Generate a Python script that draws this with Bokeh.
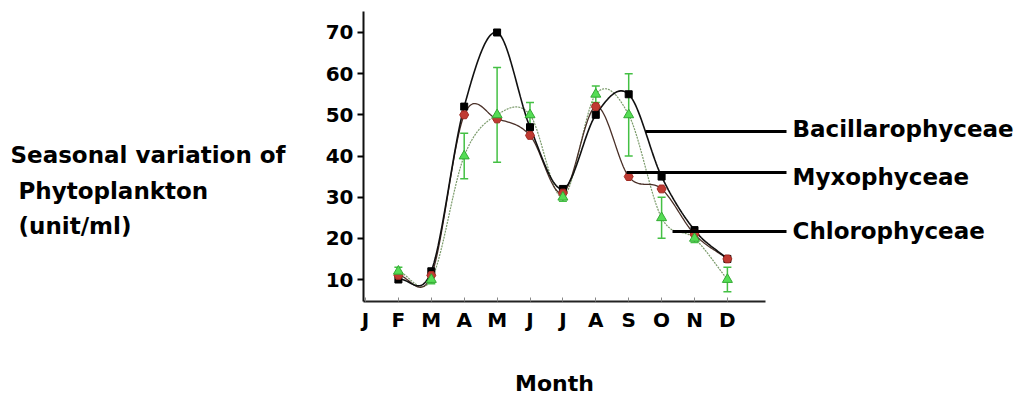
import numpy as np
from bokeh.plotting import figure
from bokeh.models import Range1d, FixedTicker, Label
from bokeh.layouts import row, column
from bokeh.core.properties import value
from bokeh.embed import file_html
from bokeh.resources import INLINE

months = ["J", "F", "M", "A", "M", "J", "J", "A", "S", "O", "N", "D"]
month_idx = [1, 2, 3, 4, 5, 6, 7, 8, 9, 10, 11]  # Feb..Dec
bacillario = [10, 12, 52, 70, 47, 32, 50, 55, 35, 22, 15]
myxo = [11, 11, 50, 49, 45, 31, 52, 35, 32, 21, 15]
chloro = [12, 10, 40, 50, 50, 30, 55, 50, 25, 20, 10]
chloro_err = [1, 1, 5.5, 11.5, 3, 1, 2, 10, 5, 1, 3]
y_ticks = [10, 20, 30, 40, 50, 60, 70]
series_names = ["Bacillarophyceae", "Myxophyceae", "Chlorophyceae"]
y_title = ["Seasonal variation of", "Phytoplankton", "(unit/ml)"]
x_title = "Month"

FONT = "DejaVu Sans"
LEFT_W = 318          # width of the left text panel
MAIN_W = 698
MAIN_H = 340
TOTAL_H = 396
FL, FB, FT = 363, 301, 11  # frame left / bottom / top (page px)
FR = LEFT_W + MAIN_W

def smooth(xs, ys, n=24):
    xs = np.asarray(xs, float); ys = np.asarray(ys, float)
    m = np.empty_like(ys)
    m[1:-1] = (ys[2:] - ys[:-2]) / 2.0
    m[0] = ys[1] - ys[0]
    m[-1] = ys[-1] - ys[-2]
    ox, oy = [], []
    for i in range(len(xs) - 1):
        t = np.linspace(0, 1, n, endpoint=False)
        h00 = 2*t**3 - 3*t**2 + 1
        h10 = t**3 - 2*t**2 + t
        h01 = -2*t**3 + 3*t**2
        h11 = t**3 - t**2
        ox.extend(xs[i] + t*(xs[i+1]-xs[i]))
        oy.extend(h00*ys[i] + h10*m[i] + h01*ys[i+1] + h11*m[i+1])
    ox.append(xs[-1]); oy.append(ys[-1])
    return ox, oy

px_per_month = 32.9
x0 = (FL - 365) / px_per_month
x1 = (FR - 365) / px_per_month
p = figure(width=MAIN_W, height=MAIN_H, output_backend="svg", toolbar_location=None,
           x_range=Range1d(x0, x1), y_range=Range1d(4.66, 75.1),
           min_border_left=FL - LEFT_W, min_border_right=0, min_border_top=FT,
           min_border_bottom=MAIN_H - FB)
p.outline_line_color = None
p.grid.visible = False

# axes
xa = p.xaxis[0]
xa.ticker = FixedTicker(ticks=list(range(12)))
xa.major_label_overrides = {i: m for i, m in enumerate(months)}
xa.bounds = (x0, 12.15)
xa.axis_line_width = 2
xa.axis_line_color = "#222222"
xa.major_tick_in = 4
xa.major_tick_out = 0
xa.major_tick_line_color = "#888888"
xa.minor_tick_line_color = None
xa.major_label_text_font = FONT
xa.major_label_text_font_style = "bold"
xa.major_label_text_font_size = "20px"
xa.major_label_text_color = "black"
xa.major_label_standoff = 6

ya = p.yaxis[0]
ya.ticker = FixedTicker(ticks=y_ticks)
ya.axis_line_width = 2
ya.axis_line_color = "#111111"
ya.major_tick_in = 0
ya.major_tick_out = 6
ya.major_tick_line_width = 2
ya.minor_tick_line_color = None
ya.major_label_text_font = FONT
ya.major_label_text_font_style = "bold"
ya.major_label_text_font_size = "20px"
ya.major_label_text_color = "black"
ya.major_label_standoff = 4

# curves
for ys, col, w, dash in [(chloro, "#7a9a6a", 1.2, "2 1"), (myxo, "#4a3028", 1.3, "solid"),
                         (bacillario, "#111111", 1.6, "solid")]:
    sx, sy = smooth(month_idx, ys)
    p.line(sx, sy, line_color=col, line_width=w, line_dash=dash)

# error bars for Chlorophyceae
lo = [v - e for v, e in zip(chloro, chloro_err)]
hi = [v + e for v, e in zip(chloro, chloro_err)]
p.segment(month_idx, lo, month_idx, hi, line_color="#44c044", line_width=1.5)
p.scatter(month_idx, lo, marker="dash", size=8, line_color="#44c044", line_width=1.5)
p.scatter(month_idx, hi, marker="dash", size=8, line_color="#44c044", line_width=1.5)

# markers
p.scatter(month_idx, bacillario, marker="square", size=7, fill_color="black", line_color="black")
p.scatter(month_idx, myxo, marker="hex", size=9, fill_color="#c03a32", line_color="#a02a22")
p.scatter(month_idx, chloro, marker="triangle", size=10, fill_color="#55dd55", line_color="#33aa33")

# leader lines to series labels
def dx(px):
    return (px - 365) / px_per_month
def dy(py):
    return 70 - (py - 32) / 4.117
lead_x0 = [dx(645), dx(626), dx(672)]
lead_x1 = [dx(786), dx(786), dx(786)]
lead_y = [dy(131), dy(172), dy(231)]
p.segment(lead_x0, lead_y, lead_x1, lead_y, line_color="black", line_width=3)

for name, py in zip(series_names, [128, 176, 230]):
    p.add_layout(Label(x=792 - FL, y=FB - py, x_units="screen", y_units="screen", text=name,
                       text_font=FONT, text_font_style="bold", text_font_size="23px",
                       text_color="black", text_align="left", text_baseline="middle"))

# left panel holding the y title (same vertical borders as the main plot)
left = figure(width=LEFT_W, height=TOTAL_H, output_backend="svg", toolbar_location=None,
              x_range=Range1d(0, LEFT_W), y_range=Range1d(FB, FT),
              x_axis_type=None, y_axis_type=None, min_border_left=0, min_border_right=0,
              min_border_top=FT, min_border_bottom=TOTAL_H - FB)
left.outline_line_color = None
left.grid.visible = False
left.text(x=[10, 18, 18], y=[154, 190, 225], text=y_title,
          text_font=value(FONT), text_font_style="bold", text_font_size="23px",
          text_color="black", text_baseline="middle", text_align="left")

# bottom panel holding the x title (same horizontal borders as the main plot)
bottom = figure(width=MAIN_W, height=TOTAL_H - MAIN_H, output_backend="svg", toolbar_location=None,
                x_range=Range1d(FL, FR), y_range=Range1d(TOTAL_H, MAIN_H),
                x_axis_type=None, y_axis_type=None, min_border_left=FL - LEFT_W,
                min_border_right=0, min_border_top=0, min_border_bottom=0)
bottom.outline_line_color = None
bottom.grid.visible = False
bottom.text(x=[554], y=[383], text=[x_title],
            text_font=value(FONT), text_font_style="bold", text_font_size="22px",
            text_color="black", text_baseline="middle", text_align="center")

layout = row(left, column(p, bottom, spacing=0), spacing=0)
open("out.html", "w").write(file_html(layout, INLINE))
